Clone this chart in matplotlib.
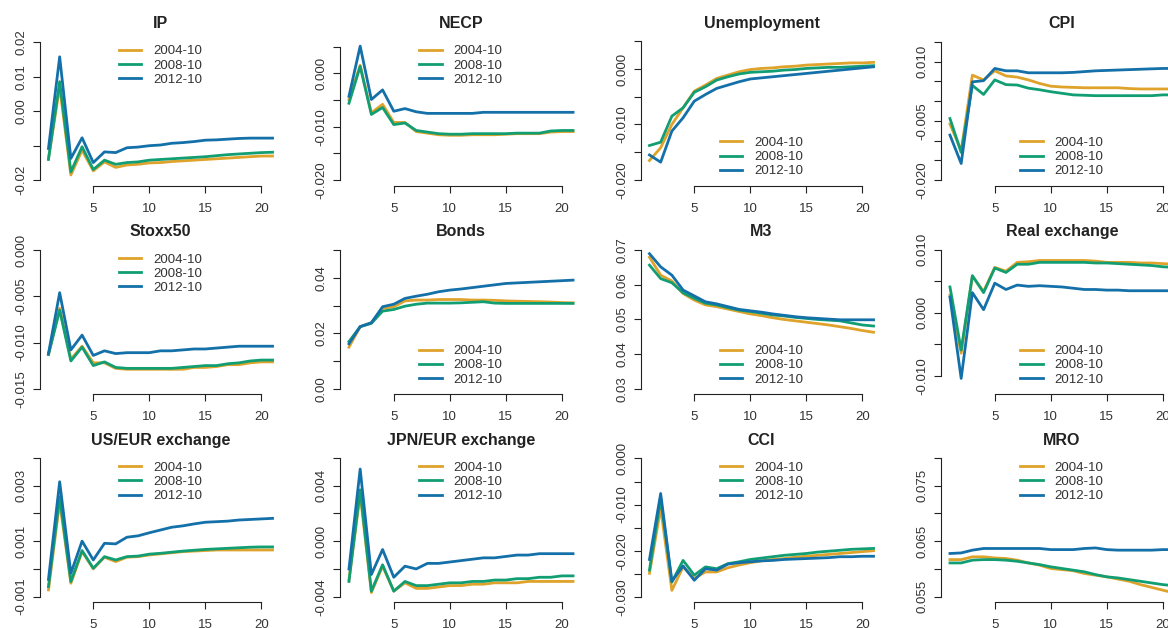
import matplotlib
matplotlib.use("Agg")
import matplotlib.pyplot as plt

plt.rcParams['font.family'] = ['Liberation Sans', 'DejaVu Sans']

horizon = list(range(1, 22))
series_names = ['2004-10', '2008-10', '2012-10']
colors = ['#DFA22A', '#119E73', '#1470A8']

ip_04 = [-0.0137, 0.0071, -0.0185, -0.0113, -0.0173, -0.0147, -0.0163, -0.0156, -0.0154, -0.0150, -0.0149, -0.0146, -0.0144, -0.0142, -0.0140, -0.0138, -0.0136, -0.0134, -0.0132, -0.0130, -0.0130]
ip_08 = [-0.0140, 0.0086, -0.0176, -0.0103, -0.0169, -0.0142, -0.0154, -0.0149, -0.0147, -0.0142, -0.0140, -0.0138, -0.0136, -0.0134, -0.0132, -0.0129, -0.0126, -0.0124, -0.0122, -0.0120, -0.0119]
ip_12 = [-0.0108, 0.0158, -0.0137, -0.0077, -0.0149, -0.0118, -0.0120, -0.0106, -0.0104, -0.0100, -0.0098, -0.0093, -0.0091, -0.0088, -0.0084, -0.0083, -0.0081, -0.0079, -0.0078, -0.0078, -0.0078]

necp_04 = [-0.0049, 0.0015, -0.0074, -0.0058, -0.0092, -0.0092, -0.0109, -0.0112, -0.0115, -0.0116, -0.0116, -0.0115, -0.0115, -0.0115, -0.0114, -0.0113, -0.0113, -0.0113, -0.0110, -0.0109, -0.0109]
necp_08 = [-0.0056, 0.0013, -0.0077, -0.0064, -0.0096, -0.0093, -0.0107, -0.0110, -0.0113, -0.0114, -0.0114, -0.0113, -0.0113, -0.0113, -0.0113, -0.0112, -0.0112, -0.0112, -0.0108, -0.0107, -0.0107]
necp_12 = [-0.0043, 0.0051, -0.0049, -0.0031, -0.0071, -0.0066, -0.0072, -0.0075, -0.0075, -0.0075, -0.0075, -0.0075, -0.0073, -0.0073, -0.0073, -0.0073, -0.0073, -0.0073, -0.0073, -0.0073, -0.0073]

unemp_04 = [-0.0165, -0.0142, -0.0100, -0.0070, -0.0040, -0.0029, -0.0017, -0.0011, -0.0005, -0.0001, 0.0001, 0.0002, 0.0004, 0.0005, 0.0007, 0.0008, 0.0009, 0.0010, 0.0011, 0.0011, 0.0012]
unemp_08 = [-0.0138, -0.0132, -0.0085, -0.0070, -0.0042, -0.0032, -0.0020, -0.0014, -0.0009, -0.0006, -0.0005, -0.0004, -0.0002, -0.0001, 0.0001, 0.0002, 0.0003, 0.0003, 0.0004, 0.0005, 0.0006]
unemp_12 = [-0.0155, -0.0168, -0.0112, -0.0088, -0.0058, -0.0046, -0.0035, -0.0029, -0.0023, -0.0018, -0.0016, -0.0014, -0.0012, -0.0010, -0.0008, -0.0006, -0.0004, -0.0002, 0.0000, 0.0002, 0.0004]

cpi_04 = [-0.0058, -0.0125, 0.0066, 0.0054, 0.0077, 0.0064, 0.0061, 0.0054, 0.0045, 0.0038, 0.0036, 0.0035, 0.0034, 0.0034, 0.0034, 0.0034, 0.0032, 0.0031, 0.0031, 0.0031, 0.0031]
cpi_08 = [-0.0044, -0.0130, 0.0040, 0.0017, 0.0054, 0.0042, 0.0041, 0.0033, 0.0029, 0.0024, 0.0020, 0.0016, 0.0015, 0.0014, 0.0014, 0.0014, 0.0014, 0.0014, 0.0014, 0.0016, 0.0016]
cpi_12 = [-0.0086, -0.0158, 0.0049, 0.0052, 0.0083, 0.0077, 0.0077, 0.0072, 0.0072, 0.0072, 0.0072, 0.0073, 0.0075, 0.0077, 0.0078, 0.0079, 0.0080, 0.0081, 0.0082, 0.0083, 0.0083]

stoxx_04 = [-0.0113, -0.0063, -0.0118, -0.0104, -0.0122, -0.0122, -0.0128, -0.0129, -0.0129, -0.0129, -0.0129, -0.0129, -0.0129, -0.0127, -0.0127, -0.0126, -0.0124, -0.0124, -0.0122, -0.0121, -0.0121]
stoxx_08 = [-0.0113, -0.0065, -0.0120, -0.0105, -0.0125, -0.0121, -0.0127, -0.0128, -0.0128, -0.0128, -0.0128, -0.0128, -0.0127, -0.0126, -0.0125, -0.0125, -0.0123, -0.0122, -0.0120, -0.0119, -0.0119]
stoxx_12 = [-0.0112, -0.0046, -0.0108, -0.0092, -0.0114, -0.0109, -0.0112, -0.0111, -0.0111, -0.0111, -0.0109, -0.0109, -0.0108, -0.0107, -0.0107, -0.0106, -0.0105, -0.0104, -0.0104, -0.0104, -0.0104]

bonds_04 = [0.0150, 0.0224, 0.0238, 0.0290, 0.0296, 0.0317, 0.0320, 0.0320, 0.0322, 0.0322, 0.0322, 0.0320, 0.0320, 0.0319, 0.0317, 0.0316, 0.0315, 0.0314, 0.0313, 0.0311, 0.0310]
bonds_08 = [0.0170, 0.0224, 0.0236, 0.0280, 0.0286, 0.0298, 0.0305, 0.0309, 0.0309, 0.0309, 0.0310, 0.0312, 0.0314, 0.0309, 0.0308, 0.0308, 0.0308, 0.0308, 0.0308, 0.0308, 0.0308]
bonds_12 = [0.0162, 0.0224, 0.0238, 0.0296, 0.0305, 0.0326, 0.0334, 0.0341, 0.0350, 0.0356, 0.0360, 0.0365, 0.0370, 0.0375, 0.0380, 0.0382, 0.0384, 0.0386, 0.0388, 0.0390, 0.0392]

m3_04 = [0.0680, 0.0628, 0.0611, 0.0575, 0.0556, 0.0542, 0.0537, 0.0530, 0.0523, 0.0516, 0.0511, 0.0505, 0.0500, 0.0496, 0.0492, 0.0488, 0.0484, 0.0479, 0.0474, 0.0468, 0.0463]
m3_08 = [0.0657, 0.0618, 0.0606, 0.0577, 0.0561, 0.0547, 0.0542, 0.0534, 0.0527, 0.0523, 0.0518, 0.0513, 0.0510, 0.0506, 0.0503, 0.0500, 0.0498, 0.0496, 0.0490, 0.0484, 0.0481]
m3_12 = [0.0690, 0.0652, 0.0628, 0.0585, 0.0568, 0.0551, 0.0545, 0.0537, 0.0529, 0.0525, 0.0521, 0.0516, 0.0512, 0.0508, 0.0505, 0.0503, 0.0501, 0.0499, 0.0499, 0.0499, 0.0499]

real_04 = [0.0028, -0.0064, 0.0058, 0.0034, 0.0072, 0.0066, 0.0080, 0.0081, 0.0083, 0.0083, 0.0083, 0.0083, 0.0083, 0.0082, 0.0080, 0.0080, 0.0080, 0.0079, 0.0079, 0.0078, 0.0077]
real_08 = [0.0041, -0.0059, 0.0059, 0.0032, 0.0071, 0.0064, 0.0077, 0.0077, 0.0080, 0.0080, 0.0080, 0.0080, 0.0080, 0.0079, 0.0079, 0.0078, 0.0077, 0.0076, 0.0075, 0.0073, 0.0072]
real_12 = [0.0025, -0.0104, 0.0032, 0.0005, 0.0047, 0.0037, 0.0044, 0.0042, 0.0043, 0.0042, 0.0041, 0.0039, 0.0037, 0.0037, 0.0036, 0.0036, 0.0035, 0.0035, 0.0035, 0.0035, 0.0035]

us_04 = [-0.00076, 0.00242, -0.00052, 0.00062, 0.00000, 0.00042, 0.00026, 0.00042, 0.00044, 0.00050, 0.00054, 0.00058, 0.00062, 0.00064, 0.00066, 0.00068, 0.00068, 0.00068, 0.00068, 0.00068, 0.00068]
us_08 = [-0.00064, 0.00260, -0.00046, 0.00066, 0.00002, 0.00044, 0.00032, 0.00044, 0.00046, 0.00053, 0.00056, 0.00060, 0.00064, 0.00067, 0.00070, 0.00072, 0.00074, 0.00076, 0.00078, 0.00079, 0.00079]
us_12 = [-0.00038, 0.00314, -0.00016, 0.00100, 0.00032, 0.00092, 0.00090, 0.00114, 0.00119, 0.00130, 0.00140, 0.00150, 0.00155, 0.00162, 0.00168, 0.00170, 0.00172, 0.00176, 0.00178, 0.00180, 0.00182]

jpn_04 = [-0.0028, 0.0034, -0.0037, -0.0018, -0.0036, -0.0030, -0.0034, -0.0034, -0.0033, -0.0032, -0.0032, -0.0031, -0.0031, -0.0030, -0.0030, -0.0030, -0.0029, -0.0029, -0.0029, -0.0029, -0.0029]
jpn_08 = [-0.0029, 0.0037, -0.0036, -0.0017, -0.0036, -0.0029, -0.0032, -0.0032, -0.0031, -0.0030, -0.0030, -0.0029, -0.0029, -0.0028, -0.0028, -0.0027, -0.0027, -0.0026, -0.0026, -0.0025, -0.0025]
jpn_12 = [-0.0020, 0.0052, -0.0024, -0.0006, -0.0026, -0.0018, -0.0020, -0.0016, -0.0016, -0.0015, -0.0014, -0.0013, -0.0012, -0.0012, -0.0011, -0.0010, -0.0010, -0.0009, -0.0009, -0.0009, -0.0009]

cci_04 = [-0.0249, -0.0108, -0.0286, -0.0235, -0.0260, -0.0246, -0.0246, -0.0237, -0.0231, -0.0226, -0.0222, -0.0219, -0.0217, -0.0214, -0.0212, -0.0210, -0.0208, -0.0206, -0.0204, -0.0202, -0.0200]
cci_08 = [-0.0242, -0.0087, -0.0268, -0.0221, -0.0253, -0.0235, -0.0239, -0.0228, -0.0224, -0.0219, -0.0216, -0.0213, -0.0210, -0.0208, -0.0206, -0.0203, -0.0201, -0.0199, -0.0197, -0.0196, -0.0195]
cci_12 = [-0.0219, -0.0076, -0.0266, -0.0233, -0.0264, -0.0239, -0.0242, -0.0229, -0.0226, -0.0224, -0.0222, -0.0221, -0.0219, -0.0218, -0.0217, -0.0216, -0.0215, -0.0213, -0.0213, -0.0212, -0.0212]

mro_04 = [0.0617, 0.0617, 0.0622, 0.0622, 0.0620, 0.0619, 0.0616, 0.0611, 0.0607, 0.0601, 0.0599, 0.0597, 0.0592, 0.0589, 0.0586, 0.0582, 0.0578, 0.0572, 0.0567, 0.0562, 0.0557]
mro_08 = [0.0611, 0.0611, 0.0616, 0.0617, 0.0617, 0.0616, 0.0614, 0.0611, 0.0608, 0.0604, 0.0601, 0.0598, 0.0595, 0.0590, 0.0586, 0.0584, 0.0581, 0.0578, 0.0575, 0.0572, 0.0570]
mro_12 = [0.0628, 0.0629, 0.0634, 0.0637, 0.0637, 0.0637, 0.0637, 0.0637, 0.0637, 0.0635, 0.0635, 0.0635, 0.0637, 0.0638, 0.0635, 0.0634, 0.0634, 0.0634, 0.0634, 0.0635, 0.0635]

# title, series, y limits, y ticks, shown tick labels, legend position
panels = [
    ('IP', [ip_04, ip_08, ip_12], (-0.0217, 0.0217),
     [-0.02, -0.01, 0.0, 0.01, 0.02], ['-0.02', '', '0.00', '0.01', '0.02'], 'upper'),
    ('NECP', [necp_04, necp_08, necp_12], (-0.0211, 0.0069),
     [-0.02, -0.015, -0.01, -0.005, 0.0, 0.005], ['-0.020', '', '-0.010', '', '0.000', ''], 'upper'),
    ('Unemployment', [unemp_04, unemp_08, unemp_12], (-0.0211, 0.00586),
     [-0.02, -0.015, -0.01, -0.005, 0.0, 0.005], ['-0.020', '', '-0.010', '', '0.000', ''], 'lower'),
    ('CPI', [cpi_04, cpi_08, cpi_12], (-0.0215, 0.0164),
     [-0.02, -0.015, -0.01, -0.005, 0.0, 0.005, 0.01, 0.015], ['-0.020', '', '', '-0.005', '', '', '0.010', ''], 'lower'),
    ('Stoxx50', [stoxx_04, stoxx_08, stoxx_12], (-0.0156, 0.0006),
     [-0.015, -0.01, -0.005, 0.0], ['-0.015', '-0.010', '-0.005', '0.000'], 'upper'),
    ('Bonds', [bonds_04, bonds_08, bonds_12], (-0.002, 0.052),
     [0.0, 0.01, 0.02, 0.03, 0.04, 0.05], ['0.00', '', '0.02', '', '0.04', ''], 'lower'),
    ('M3', [m3_04, m3_08, m3_12], (0.0284, 0.0716),
     [0.03, 0.04, 0.05, 0.06, 0.07], ['0.03', '0.04', '0.05', '0.06', '0.07'], 'lower'),
    ('Real exchange', [real_04, real_08, real_12], (-0.0129, 0.0108),
     [-0.01, -0.005, 0.0, 0.005, 0.01], ['-0.010', '', '0.000', '', '0.010'], 'lower'),
    ('US/EUR exchange', [us_04, us_08, us_12], (-0.00121, 0.00418),
     [-0.001, 0.0, 0.001, 0.002, 0.003, 0.004], ['-0.001', '', '0.001', '', '0.003', ''], 'upper'),
    ('JPN/EUR exchange', [jpn_04, jpn_08, jpn_12], (-0.00441, 0.00636),
     [-0.004, -0.002, 0.0, 0.002, 0.004, 0.006], ['-0.004', '', '0.000', '', '0.004', ''], 'upper'),
    ('CCI', [cci_04, cci_08, cci_12], (-0.0312, 0.0012),
     [-0.03, -0.025, -0.02, -0.015, -0.01, -0.005, 0.0], ['-0.030', '', '-0.020', '', '-0.010', '', '0.000'], 'upper'),
    ('MRO', [mro_04, mro_08, mro_12], (0.0540, 0.0809),
     [0.055, 0.06, 0.065, 0.07, 0.075, 0.08], ['0.055', '', '0.065', '', '0.075', ''], 'upper'),
]

W, H = 1168, 628
fig = plt.figure(figsize=(W / 100, H / 100), dpi=100)

for k, (title, lines, ylim, yticks, ylabels, legpos) in enumerate(panels):
    r, c = divmod(k, 4)
    left = 39.5 + 300.5 * c
    top = 36.5 + 208.2 * r
    ax = fig.add_axes([left / W, 1 - (top + 149.5) / H, 242 / W, 149.5 / H])
    for vals, col, name in zip(lines, colors, series_names):
        ax.plot(horizon, vals, color=col, lw=2.0, label=name)
    ax.set_xlim(0.2, 21.8)
    ax.set_ylim(*ylim)
    ax.set_xticks([5, 10, 15, 20])
    ax.set_yticks(yticks)
    ax.set_yticklabels(ylabels, rotation=90, va='center')
    ax.spines['top'].set_visible(False)
    ax.spines['right'].set_visible(False)
    ax.spines['bottom'].set_bounds(5, 20)
    ax.spines['left'].set_bounds(yticks[0], yticks[-1])
    for s in ('left', 'bottom'):
        ax.spines[s].set_linewidth(0.8)
        ax.spines[s].set_color('#222222')
    ax.tick_params(direction='out', length=5, width=0.8, color='#222222',
                   labelsize=9.5, labelcolor='#333333', pad=4)
    ax.tick_params(axis='x', pad=7)
    ax.patch.set_alpha(0)
    ax.set_title(title, fontsize=11.5, fontweight='bold', color='#222222', pad=6)
    loc = 'upper center' if legpos == 'upper' else 'lower center'
    ax.legend(loc=loc, frameon=False, fontsize=9.5, handlelength=1.7,
              handletextpad=0.9, labelspacing=0.15, borderaxespad=0.25,
              labelcolor='#333333')

fig.savefig('out.png', dpi=100)
